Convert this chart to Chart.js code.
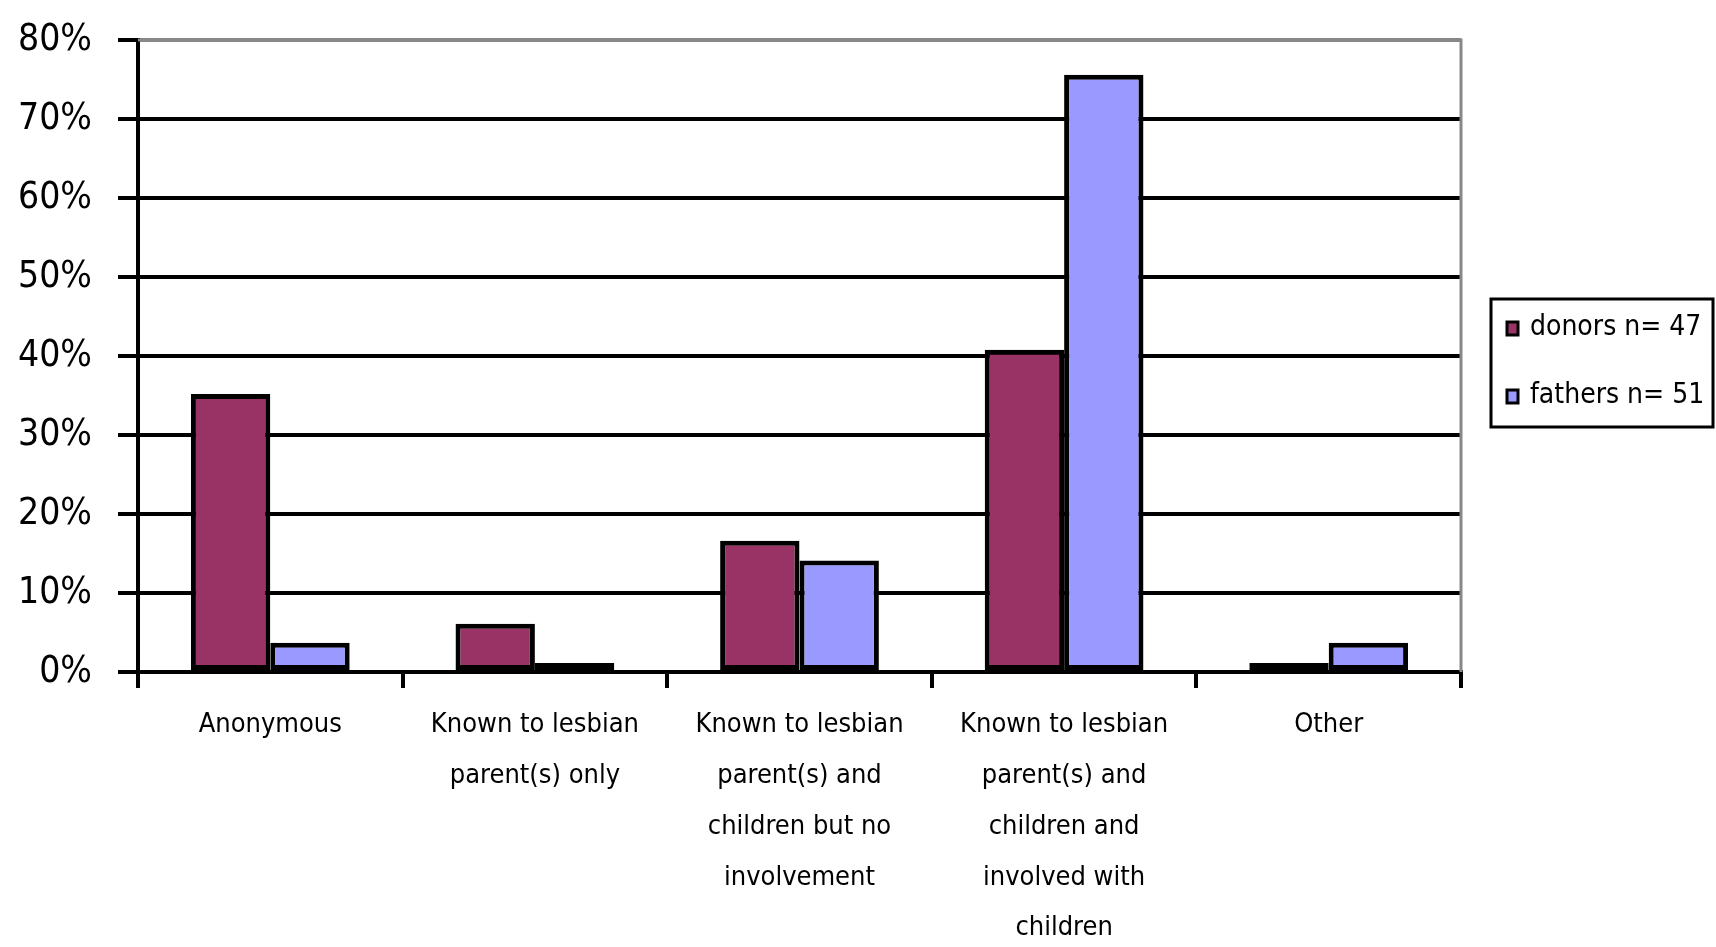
<!DOCTYPE html>
<html>
<head>
<meta charset="utf-8">
<script src="https://cdn.jsdelivr.net/npm/chart.js@4.4.1/dist/chart.umd.min.js"></script>
<style>
  html, body { margin: 0; padding: 0; background: #fff; }
  canvas { display: block; }
</style>
</head>
<body>
<canvas id="chart" width="1716" height="947"></canvas>
<script>
// ===== DATA =====
const categories = [
  'Anonymous',
  ['Known to lesbian', 'parent(s) only'],
  ['Known to lesbian', 'parent(s) and', 'children but no', 'involvement'],
  ['Known to lesbian', 'parent(s) and', 'children and', 'involved with', 'children'],
  'Other'
];
const donors = [35.2, 6.1, 16.6, 40.8, 0];
const fathers = [3.7, 0, 14.1, 75.6, 3.7];
const seriesLabels = ['donors n= 47', 'fathers n= 51'];
const yTicks = [0, 10, 20, 30, 40, 50, 60, 70, 80];

const FONT = "'Liberation Sans Narrow', 'DejaVu Sans Condensed', 'Liberation Sans', sans-serif";
const PLUM = '#993366';
const LAVENDER = '#9999ff';

// gray frame on top/right + boxed legend on the right
const frameAndLegend = {
  id: 'frameAndLegend',
  afterDatasetsDraw(chart) {
    const { ctx, chartArea: a } = chart;
    ctx.save();
    ctx.strokeStyle = '#888';
    ctx.lineWidth = 3;
    ctx.beginPath();
    ctx.moveTo(a.left, a.top);
    ctx.lineTo(a.right, a.top);
    ctx.lineTo(a.right, a.bottom);
    ctx.stroke();
    ctx.restore();
  },
  afterDraw(chart) {
    const { ctx } = chart;
    const box = { x: 1491, y: 299, w: 222, h: 128 };
    ctx.save();
    ctx.strokeStyle = '#000';
    ctx.lineWidth = 3;
    ctx.strokeRect(box.x, box.y, box.w, box.h);
    ctx.font = '28px ' + FONT;
    ctx.textBaseline = 'middle';
    chart.data.datasets.forEach((ds, i) => {
      const cy = 328 + i * 68;
      ctx.fillStyle = ds.backgroundColor;
      ctx.fillRect(1507, cy - 6, 11, 13);
      ctx.lineWidth = 3;
      ctx.strokeStyle = '#000';
      ctx.strokeRect(1507, cy - 6, 11, 13);
      ctx.fillStyle = '#000';
      ctx.fillText(ds.label, 1530, cy);
    });
    ctx.restore();
  }
};

new Chart(document.getElementById('chart'), {
  type: 'bar',
  data: {
    labels: categories,
    datasets: [
      { label: seriesLabels[0], data: donors, backgroundColor: PLUM },
      { label: seriesLabels[1], data: fathers, backgroundColor: LAVENDER }
    ]
  },
  options: {
    responsive: false,
    animation: false,
    layout: { autoPadding: false, padding: { top: 40, right: 255, left: 0, bottom: 0 } },
    datasets: {
      bar: {
        categoryPercentage: 0.6,
        barPercentage: 1.0,
        borderColor: '#000',
        borderWidth: 5,
        borderSkipped: false,
        minBarLength: 9
      }
    },
    plugins: {
      legend: { display: false },
      tooltip: { enabled: false }
    },
    scales: {
      x: {
        afterFit: s => { s.height = 275; s.paddingLeft = 0; s.paddingRight = 0; },
        grid: { drawOnChartArea: false, color: '#000', lineWidth: 4, tickLength: 16 },
        border: { color: '#000', width: 4 },
        ticks: {
          color: '#000',
          maxRotation: 0,
          autoSkip: false,
          padding: 12,
          font: { family: FONT, size: 27, lineHeight: 1.88 }
        }
      },
      y: {
        min: 0,
        max: 80,
        afterFit: s => { s.width = 138; s.paddingTop = 0; s.paddingBottom = 0; },
        afterBuildTicks: s => { s.ticks = yTicks.map(v => ({ value: v })); },
        grid: {
          color: ctx => ctx.tick && ctx.tick.value === 80 ? '#888' : '#000',
          lineWidth: 4,
          tickLength: 20,
          tickColor: '#000'
        },
        border: { color: '#000', width: 4 },
        ticks: {
          color: '#000',
          padding: 26,
          font: { family: FONT, size: 37 },
          callback: v => v + '%'
        }
      }
    }
  },
  plugins: [frameAndLegend]
});
</script>
</body>
</html>
